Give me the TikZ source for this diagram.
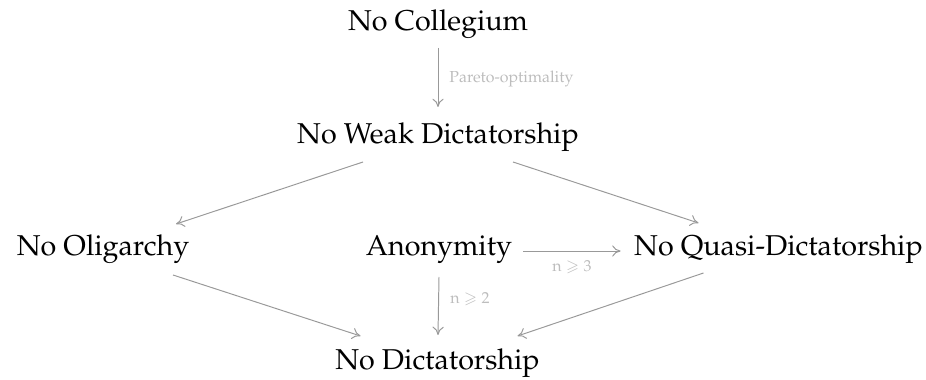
\documentclass[tikz,border=0pt]{standalone}
\usepackage[T1]{fontenc}
\usepackage{amssymb}
\usepackage{mathpazo}
\usetikzlibrary{arrows.meta,calc}
\definecolor{arrgray}{HTML}{999999}
\definecolor{lblgray}{HTML}{BDBDBD}
\tikzset{
  lbl/.style={anchor=base,font=\fontsize{11.7}{14}\selectfont,inner sep=0pt},
  edgelbl/.style={anchor=base west,font=\fontsize{6.5}{8}\selectfont,text=lblgray,inner sep=0pt},
  arr/.style={draw=arrgray,line width=0.4pt,-{To[length=3.4pt,width=4.6pt]}}
}
\begin{document}
\begin{tikzpicture}[x=0.408pt,y=-0.408pt]
\useasboundingbox (0,0) rectangle (926,380);
\node[lbl] (c) at (438,31) {No Collegium};
\node[lbl] (w) at (438,144) {No Weak Dictatorship};
\node[lbl] (o) at (103,256) {No Oligarchy};
\node[lbl] (a) at (439,256) {Anonymity};
\node[lbl] (q) at (778.5,256) {No Quasi-Dictatorship};
\node[lbl] (d) at (437.5,370) {No Dictatorship};
\draw[arr] ($(c.base)+(0,17)$) -- ($(w.base)+(0,-37)$);
\draw[arr] ($(w.base)+(-75,18)$) -- ($(o.base)+(73,-32)$);
\draw[arr] ($(w.base)+(75,18)$) -- ($(q.base)+(-80,-33)$);
\draw[arr] ($(a.base)+(84,-5)$) -- ($(q.base)+(-158,-5)$);
\draw[arr] ($(a.base)+(0,21)$) -- ($(d.base)+(0.5,-35)$);
\draw[arr] ($(o.base)+(70,19)$) -- ($(d.base)+(-77,-34)$);
\draw[arr] ($(q.base)+(-75,17)$) -- ($(d.base)+(80,-34)$);
\node[edgelbl] (l1) at (449,83) {Pareto-optimality};
\node[edgelbl] (l2) at (552,272) {$\mathrm{n}\geqslant 3$};
\node[edgelbl] (l3) at (450,304) {$\mathrm{n}\geqslant 2$};
\end{tikzpicture}
\end{document}
